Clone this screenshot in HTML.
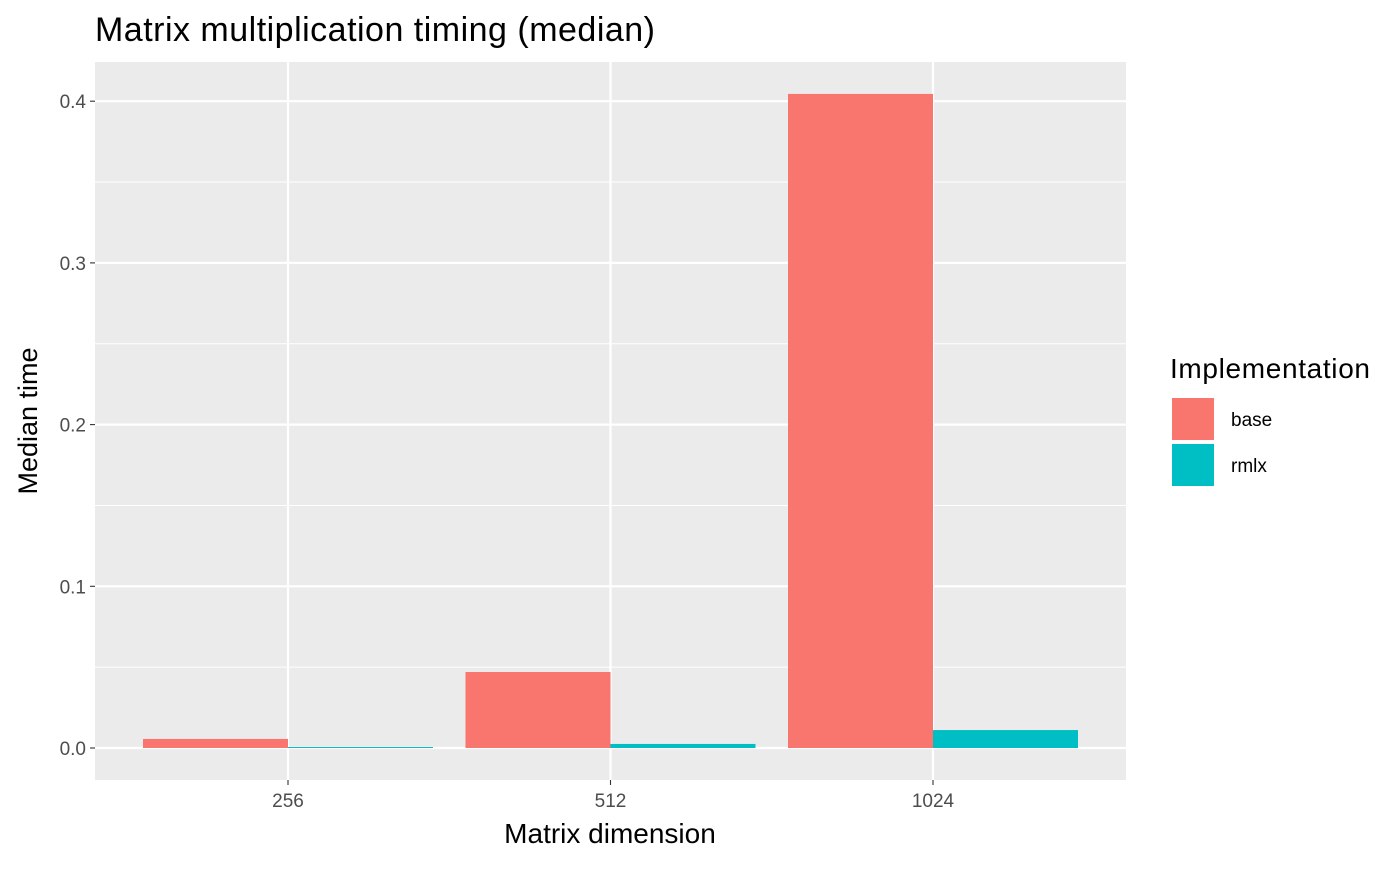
<!DOCTYPE html>
<html><head><meta charset="utf-8"><style>
body{margin:0;background:#fff;font-family:"Liberation Sans",sans-serif}
</style></head><body>
<svg id="chart" width="1400" height="865" xmlns="http://www.w3.org/2000/svg" font-family="Liberation Sans, sans-serif"></svg>
<script>
const categories=["256","512","1024"];
const seriesNames=["base","rmlx"];
const baseValues=[0.0056,0.047,0.4045];
const rmlxValues=[0.0006,0.0025,0.0111];
const yTicks=[0,0.1,0.2,0.3,0.4];
const yTickLabels=["0.0","0.1","0.2","0.3","0.4"];
const colors=["#F8766D","#00BFC4"];
const svg=document.getElementById('chart');
const NS="http://www.w3.org/2000/svg";
const P={l:95,r:1126,t:62,b:780};
const y0=748,pxPer=1617;
const ys=v=>y0-v*pxPer;
const mid=(P.l+P.r)/2,step=322.5;
const xc=i=>mid+(i-(categories.length-1)/2)*step;
const bw=145;
function mk(t,a,txt){const e=document.createElementNS(NS,t);for(const k in a)e.setAttribute(k,a[k]);if(txt!==undefined)e.textContent=txt;svg.appendChild(e);return e;}
let e=mk('rect',{x:P.l,y:P.t,width:P.r-P.l,height:P.b-P.t,fill:'#EBEBEB'});

for(let i=0;i<yTicks.length-1;i++){const v=(yTicks[i]+yTicks[i+1])/2;
 e=mk('line',{x1:P.l,x2:P.r,y1:ys(v),y2:ys(v),stroke:'#fff','stroke-width':1});
 }
yTicks.forEach((v,i)=>{
 e=mk('line',{x1:P.l,x2:P.r,y1:ys(v),y2:ys(v),stroke:'#fff','stroke-width':2.2});
 
 e=mk('line',{x1:P.l-5,x2:P.l,y1:ys(v),y2:ys(v),stroke:'#333','stroke-width':1.1});
 
 e=mk('text',{x:P.l-9,y:ys(v)+7,'text-anchor':'end','font-size':19,fill:'#4D4D4D'},yTickLabels[i]);
 
});
categories.forEach((c,i)=>{
 e=mk('line',{x1:xc(i),x2:xc(i),y1:P.t,y2:P.b,stroke:'#fff','stroke-width':2.2});
 
 e=mk('line',{x1:xc(i),x2:xc(i),y1:P.b,y2:P.b+5,stroke:'#333','stroke-width':1.1});
 
 e=mk('text',{x:xc(i),y:P.b+27,'text-anchor':'middle','font-size':19,fill:'#4D4D4D'},c);
 
});
[baseValues,rmlxValues].forEach((vals,s)=>{
 vals.forEach((v,i)=>{
  const x=xc(i)-bw+s*bw;
  e=mk('rect',{x:x,y:ys(v),width:bw,height:y0-ys(v),fill:colors[s]});
  
 });
});
e=mk('text',{x:95,y:41,'font-size':34,fill:'#000',textLength:560},'Matrix multiplication timing (median)');

e=mk('text',{x:610,y:843,'text-anchor':'middle','font-size':28,fill:'#000'},'Matrix dimension');

e=mk('text',{x:0,y:0,'text-anchor':'middle','font-size':27,fill:'#000',transform:'translate(37,421) rotate(-90)'},'Median time');

e=mk('text',{x:1170,y:378,'font-size':28,fill:'#000',textLength:200},'Implementation');

seriesNames.forEach((n,s)=>{
 const y=397+s*46;
 e=mk('rect',{x:1171,y:y,width:44,height:44,fill:colors[s],stroke:'#fff','stroke-width':2});
 
 e=mk('text',{x:1231,y:y+29,'font-size':19,fill:'#000'},n);
 
});
</script>
</body></html>
